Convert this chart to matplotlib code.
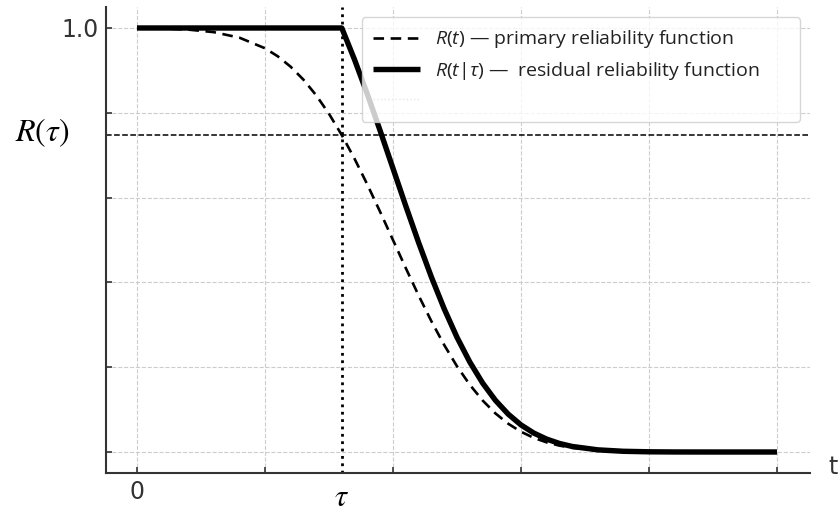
import matplotlib
matplotlib.use('Agg')
import matplotlib.pyplot as plt
from matplotlib.lines import Line2D

# ---- data ----
t_primary = [0.0, 0.2, 0.4, 0.6, 0.8, 1.0, 1.1, 1.2, 1.3, 1.4, 1.5, 1.6, 1.7, 1.8, 1.9,
             2.0, 2.1, 2.2, 2.3, 2.4, 2.5, 2.6, 2.7, 2.8, 2.9, 3.0, 3.1, 3.2, 3.3, 3.4,
             3.6, 3.8, 4.0, 4.2, 4.5, 5.0]
r_primary = [0.9996, 0.9987, 0.9962, 0.9902, 0.9772, 0.9522, 0.9332, 0.9088, 0.8783, 0.8413,
             0.7977, 0.7475, 0.6915, 0.6306, 0.5662, 0.5000, 0.4338, 0.3694, 0.3085, 0.2525,
             0.2023, 0.1587, 0.1217, 0.0912, 0.0668, 0.0478, 0.0334, 0.0228, 0.0151, 0.0098,
             0.0038, 0.0013, 0.0004, 0.0001, 0.0, 0.0]

t_residual = [0.0, 1.6, 1.7, 1.8, 1.9, 2.0, 2.1, 2.2, 2.3, 2.4, 2.5, 2.6, 2.7, 2.8, 2.9,
              3.0, 3.1, 3.2, 3.3, 3.4, 3.6, 3.8, 4.0, 4.2, 4.5, 5.0]
r_residual = [1.0, 1.0, 0.9251, 0.8436, 0.7575, 0.6689, 0.5803, 0.4942, 0.4127, 0.3378,
              0.2706, 0.2123, 0.1628, 0.1220, 0.0894, 0.0639, 0.0447, 0.0305, 0.0202, 0.0131,
              0.0051, 0.0017, 0.0005, 0.0001, 0.0, 0.0]

tau = 1.6
r_tau = 0.7475

x_ticks = [0, 1, 2, 3, 4, 5]
x_tick_labels = ['0', '', '', '', '', '']
y_ticks = [0.0, 0.2, 0.4, 0.6, 0.8, 1.0]
y_tick_labels = ['', '', '', '', '', '1.0']

legend_labels = [r'$R(t)$ — primary reliability function',
                 r'$R(t|\tau)$ —  residual reliability function',
                 'residual reliability function residual reli']

# ---- style ----
plt.rcParams['mathtext.fontset'] = 'custom'
plt.rcParams['mathtext.it'] = 'Open Sans:italic'
plt.rcParams['mathtext.rm'] = 'Open Sans'
plt.rcParams['mathtext.sf'] = 'Open Sans'

fig = plt.figure(figsize=(8.38, 5.12), dpi=100)
ax = fig.add_axes([106 / 838, 1 - 473 / 512, (810 - 106) / 838, (473 - 7) / 512])

ax.set_xlim(-0.242, 5.258)
ax.set_ylim(-0.0495, 1.0495)

ax.grid(True, color='#cccccc', linestyle='--', linewidth=0.8)
ax.set_axisbelow(True)

for s in ['top', 'right']:
    ax.spines[s].set_visible(False)
for s in ['left', 'bottom']:
    ax.spines[s].set_color('#333333')
    ax.spines[s].set_linewidth(1.5)

ax.set_xticks(x_ticks)
ax.set_xticklabels(x_tick_labels, fontsize=17, color='#333333', family='DejaVu Sans')
ax.set_yticks(y_ticks)
ax.set_yticklabels(y_tick_labels, fontsize=17, color='#333333', family='DejaVu Sans')
ax.tick_params(direction='in', length=4, width=1.2, color='#333333', pad=5)

l1, = ax.plot(t_primary, r_primary, color='black', lw=1.9, dashes=(4, 2.5))
l2, = ax.plot(t_residual, r_residual, color='black', lw=3.9, solid_capstyle='butt')
ax.axhline(r_tau, color='black', lw=1.1, linestyle='--')
ax.axvline(tau, color='black', lw=2, linestyle=':')

l3 = Line2D([], [], color='#e6e6e6', lw=1, linestyle=':')
leg = ax.legend([l1, l2, l3], legend_labels, loc='upper right',
                prop={'family': 'Open Sans', 'size': 14},
                handlelength=2.4, labelspacing=0.5, borderpad=0.6)
for txt in leg.get_texts():
    txt.set_color('#222222')
leg.get_texts()[2].set_alpha(0)

# annotations on axes
ax.annotate(r'$R(\tau)$', xy=(0, r_tau), xycoords=('axes fraction', 'data'),
            xytext=(-26, 2), textcoords='offset points', ha='right', va='center',
            fontsize=23, math_fontfamily='stix')
ax.annotate(r'$\tau$', xy=(tau, 0), xycoords=('data', 'axes fraction'),
            xytext=(0, -24), textcoords='offset points', ha='center', va='baseline',
            fontsize=22, math_fontfamily='stix')
ax.annotate('t', xy=(1, 0), xycoords='axes fraction',
            xytext=(13, 4.5), textcoords='offset points', ha='left', va='center',
            fontsize=17, color='#333333', family='DejaVu Sans')

fig.savefig('out.png', dpi=100)
